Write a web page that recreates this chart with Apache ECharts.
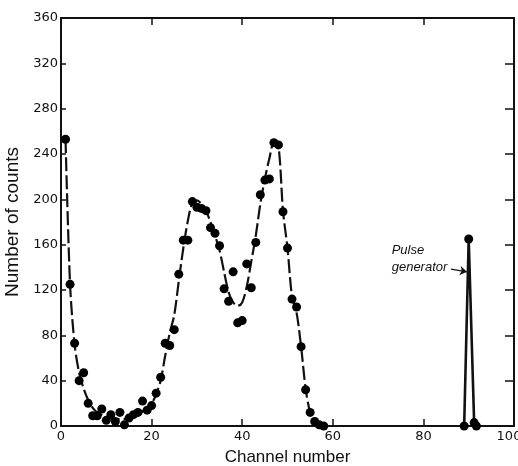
<!DOCTYPE html>
<html>
<head>
<meta charset="utf-8">
<style>
  html, body { margin: 0; padding: 0; background: #fff; }
  #chart { width: 518px; height: 466px; }
</style>
<script src="https://cdn.jsdelivr.net/npm/echarts@6/dist/echarts.min.js"></script>
</head>
<body>
<div id="chart"></div>
<script>
// measured counts per channel (dots)
const channels = [1, 2, 3, 4, 5, 6, 7, 8, 9, 10, 11, 12, 13, 14, 15, 16, 17, 18, 19, 20,
  21, 22, 23, 24, 25, 26, 27, 28, 29, 30, 31, 32, 33, 34, 35, 36, 37, 38, 39, 40,
  41, 42, 43, 44, 45, 46, 47, 48, 49, 50, 51, 52, 53, 54, 55, 56, 57, 58]
const counts = [253, 125, 73, 40, 47, 20, 9, 9, 15, 5, 10, 4, 12, 1, 7, 10, 12, 22, 14, 18,
  29, 43, 73, 71, 85, 134, 164, 164, 198, 193, 192, 190, 175, 170, 159, 121, 110, 136, 91, 93,
  143, 122, 162, 204, 217, 218, 250, 248, 189, 157, 112, 105, 70, 32, 12, 4, 1, 0]

// hand-drawn fit through the spectrum (dashed line)
const curveX = [1, 2, 3, 4, 5, 6, 7, 8, 10, 12, 14, 16, 18, 20, 21, 22, 23, 24, 25, 26, 27, 28, 29,
  30, 31, 32, 33, 34, 35, 36, 37, 38, 39, 40, 41, 42, 43, 44, 45, 46, 47, 48, 49,
  50, 51, 52, 53, 54, 55, 56, 57, 58]
const curveY = [253, 125, 72, 47, 33, 23, 16, 12, 8, 6, 6, 8, 13, 20, 28, 40, 62, 82, 98, 128, 157, 181, 197,
  199, 196, 190, 180, 168, 155, 136, 118, 109, 106, 109, 123, 145, 168, 196, 218, 236, 250, 247, 190,
  157, 114, 100, 70, 33, 12, 4, 1, 0]

// pulse generator peak
const pulseX = [89, 90, 91.2, 91.7]
const pulseY = [0, 165, 3, 0]

const xTicks = { min: 0, max: 100, interval: 20 }
const yTicks = { min: 0, max: 360, interval: 40 }

const ink = '#111'
const tickFont = 'DejaVu Sans'
const titleFont = 'Liberation Sans'

const zip = (xs, ys) => xs.map((x, i) => [x, ys[i]])

const chart = echarts.init(document.getElementById('chart'), null, { renderer: 'canvas' })

function frameAxis(extra) {
  return Object.assign({
    type: 'value',
    axisLine: { show: true, onZero: false, lineStyle: { color: ink, width: 2 } },
    axisTick: { show: true, inside: true, length: 7, lineStyle: { color: ink, width: 1.5 } },
    splitLine: { show: false },
  }, extra)
}

function buildOption() {
  return {
    backgroundColor: '#fff',
    animation: false,
    grid: { left: 61, right: 4, top: 18, bottom: 40, containLabel: false, outerBoundsMode: 'none' },
    xAxis: [
      frameAxis({
        position: 'bottom', ...xTicks,
        axisLabel: {
          fontSize: 13, fontFamily: tickFont, color: ink, margin: 4,
          // last label sits a little inside the frame, as in the print
          formatter: v => (v === xTicks.max ? '{end|' + v + '}' : String(v)),
          rich: { end: { fontSize: 13, fontFamily: tickFont, color: ink, padding: [0, 10, 0, 0] } },
        },
        name: 'Channel number', nameLocation: 'middle', nameGap: 23,
        nameTextStyle: { fontSize: 17, fontFamily: titleFont, color: ink },
      }),
      frameAxis({ position: 'top', ...xTicks, axisLabel: { show: false } }),
    ],
    yAxis: [
      frameAxis({
        position: 'left', ...yTicks,
        axisTick: { show: true, inside: true, length: 5, lineStyle: { color: ink, width: 1.5 } },
        axisLabel: { fontSize: 13, fontFamily: tickFont, color: ink, margin: 3 },
        name: 'Number of counts', nameLocation: 'middle', nameGap: 36,
        nameTextStyle: { fontSize: 19, fontFamily: titleFont, color: ink },
      }),
      frameAxis({
        position: 'right', ...yTicks,
        axisTick: { show: true, inside: true, length: 9, lineStyle: { color: ink, width: 1.5 } },
        axisLabel: { show: false },
      }),
    ],
    series: [
      {
        name: 'fit',
        type: 'line',
        data: zip(curveX, curveY),
        smooth: 0.3,
        symbol: 'none',
        lineStyle: { color: ink, width: 2.2, type: [14, 4] },
        z: 2,
      },
      {
        name: 'pulse',
        type: 'line',
        data: zip(pulseX, pulseY),
        symbol: 'none',
        lineStyle: { color: ink, width: 2.6 },
        markLine: {
          silent: true,
          symbol: ['none', 'arrow'],
          symbolSize: 7,
          label: { show: false },
          lineStyle: { color: ink, width: 1.3, type: 'solid' },
          data: [[{ coord: [86.1, 138.5] }, { coord: [89.6, 136] }]],
        },
        z: 2,
      },
      {
        name: 'counts',
        type: 'scatter',
        data: zip(channels, counts).concat(zip(pulseX, pulseY)),
        symbol: 'circle',
        symbolSize: 9,
        itemStyle: { color: '#000', opacity: 1 },
        z: 3,
      },
    ],
  }
}

chart.setOption(buildOption())

// "Pulse generator" note, placed through the axes
const p1 = chart.convertToPixel({ xAxisIndex: 0, yAxisIndex: 0 }, [73.0, 149])
const p2 = chart.convertToPixel({ xAxisIndex: 0, yAxisIndex: 0 }, [73.0, 137])
const noteStyle = { fill: ink, font: 'italic 13px "Liberation Sans"', textVerticalAlign: 'top' }
chart.setOption({
  graphic: [
    { type: 'text', left: p1[0], top: p1[1] - 13, style: Object.assign({ text: 'Pulse' }, noteStyle) },
    { type: 'text', left: p2[0], top: p2[1] - 10, style: Object.assign({ text: 'generator' }, noteStyle) },
  ],
})
</script>
</body>
</html>
